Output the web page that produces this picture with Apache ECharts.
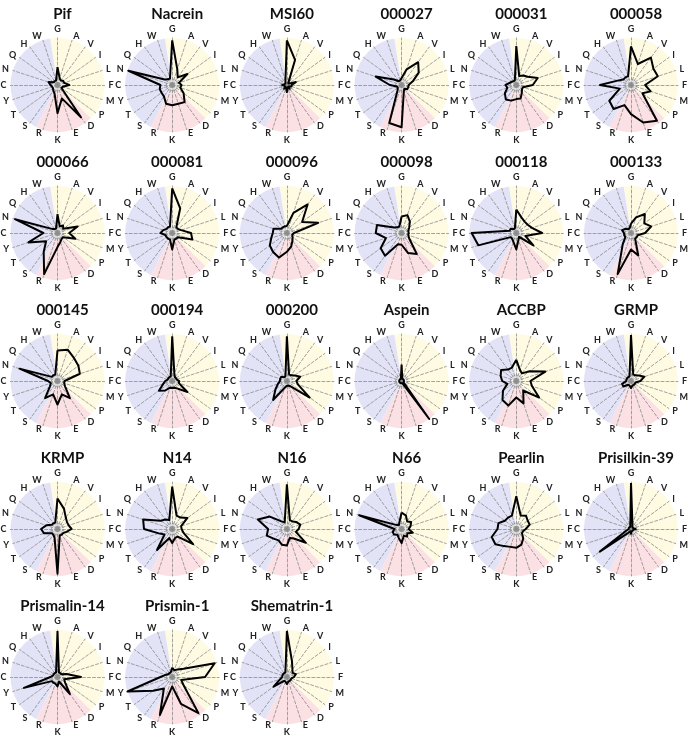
<!DOCTYPE html>
<html><head><meta charset="utf-8">
<script src="https://cdn.jsdelivr.net/npm/echarts@6/dist/echarts.min.js"></script>
<style>html,body{margin:0;padding:0;background:#fff}#c{width:689px;height:751px}</style>
</head><body><div id="c"></div>
<script>
// axes clockwise from top
const axes = ['G','A','V','I','L','F','M','P','D','E','K','R','S','T','Y','C','N','Q','H','W'];
// background sectors: number of axes in each group (clockwise from G)
const sectorCounts = [8, 4, 8];
const sectorColors = ['#fefbe2', '#fbe1e4', '#e3e3f7'];

const names = ['Pif','Nacrein','MSI60','000027','000031','000058',
  '000066','000081','000096','000098','000118','000133',
  '000145','000194','000200','Aspein','ACCBP','GRMP',
  'KRMP','N14','N16','N66','Pearlin','Prisilkin-39',
  'Prismalin-14','Prismin-1','Shematrin-1'];

// values in axis order G A V I L F M P D E K R S T Y C N Q H W (fraction of radius)
const pif        = [0.38,0.15,0.12,0.15,0.15,0.25,0.12,0.10,0.85,0.30,0.60,0.20,0.15,0.12,0.12,0.15,0.20,0.10,0.10,0.10];
const nacrein    = [0.95,0.35,0.20,0.40,0.15,0.20,0.18,0.30,0.45,0.42,0.43,0.42,0.30,0.28,0.28,0.25,0.98,0.20,0.15,0.15];
const msi60      = [0.95,0.56,0.05,0.05,0.20,0.10,0.10,0.05,0.10,0.05,0.15,0.05,0.10,0.05,0.05,0.10,0.05,0.05,0.05,0.10];
const p000027    = [0.15,0.35,0.60,0.45,0.25,0.15,0.15,0.15,0.10,0.15,0.90,0.85,0.15,0.10,0.10,0.25,0.58,0.20,0.10,0.10];
const p000031    = [0.83,0.20,0.25,0.30,0.48,0.35,0.15,0.15,0.20,0.30,0.30,0.35,0.38,0.30,0.20,0.23,0.15,0.12,0.10,0.10];
const p000058    = [0.82,0.47,0.72,0.59,0.60,0.30,0.44,0.30,0.94,0.84,0.62,0.45,0.63,0.57,0.25,0.66,0.30,0.20,0.20,0.20];
const p000066    = [0.40,0.15,0.20,0.15,0.45,0.25,0.40,0.15,0.15,0.20,0.30,0.92,0.50,0.30,0.65,0.30,0.95,0.15,0.10,0.10];
const p000081    = [0.95,0.55,0.15,0.15,0.20,0.40,0.45,0.15,0.15,0.15,0.35,0.15,0.15,0.15,0.15,0.25,0.20,0.15,0.15,0.15];
const p000096    = [0.15,0.45,0.75,0.40,0.70,0.15,0.12,0.15,0.20,0.30,0.40,0.55,0.50,0.45,0.35,0.30,0.30,0.15,0.15,0.15];
const p000098    = [0.35,0.40,0.30,0.20,0.15,0.15,0.15,0.20,0.55,0.45,0.25,0.25,0.60,0.55,0.35,0.55,0.55,0.20,0.15,0.15];
const p000118    = [0.50,0.35,0.30,0.30,0.35,0.55,0.20,0.45,0.10,0.15,0.35,0.20,0.15,0.15,0.85,0.95,0.15,0.15,0.10,0.10];
const p000133    = [0.20,0.35,0.50,0.35,0.45,0.30,0.15,0.15,0.15,0.50,0.35,0.92,0.30,0.15,0.15,0.15,0.20,0.15,0.10,0.10];
const p000145    = [0.65,0.70,0.60,0.55,0.50,0.15,0.15,0.20,0.45,0.30,0.50,0.30,0.45,0.20,0.15,0.20,0.85,0.15,0.15,0.15];
const p000194    = [0.95,0.15,0.10,0.10,0.10,0.15,0.15,0.40,0.20,0.15,0.15,0.15,0.25,0.35,0.20,0.15,0.10,0.10,0.10,0.10];
const p000200    = [0.95,0.15,0.15,0.20,0.30,0.20,0.25,0.60,0.15,0.10,0.10,0.15,0.50,0.30,0.20,0.15,0.15,0.15,0.10,0.10];
const aspein     = [0.35,0.05,0.05,0.05,0.05,0.05,0.05,0.05,1.00,0.05,0.05,0.05,0.05,0.05,0.05,0.05,0.05,0.05,0.05,0.05];
const accbp      = [0.45,0.25,0.20,0.35,0.65,0.30,0.35,0.60,0.25,0.50,0.35,0.55,0.50,0.35,0.20,0.30,0.35,0.40,0.30,0.30];
const grmp       = [0.98,0.15,0.15,0.20,0.30,0.20,0.10,0.10,0.10,0.10,0.15,0.10,0.10,0.20,0.20,0.10,0.10,0.10,0.10,0.10];
const krmp       = [0.65,0.45,0.30,0.25,0.25,0.30,0.20,0.15,0.15,0.15,0.95,0.20,0.15,0.15,0.30,0.35,0.25,0.15,0.15,0.15];
const n14        = [0.90,0.30,0.30,0.40,0.20,0.20,0.25,0.55,0.20,0.20,0.30,0.20,0.55,0.20,0.30,0.60,0.65,0.30,0.25,0.20];
const n16        = [0.95,0.20,0.20,0.25,0.30,0.25,0.20,0.50,0.25,0.20,0.35,0.35,0.30,0.35,0.45,0.40,0.65,0.45,0.20,0.15];
const n66        = [0.35,0.30,0.20,0.25,0.20,0.15,0.25,0.15,0.20,0.15,0.30,0.20,0.15,0.20,0.20,0.15,0.95,0.15,0.10,0.15];
const pearlin    = [0.70,0.30,0.35,0.30,0.30,0.20,0.15,0.15,0.25,0.35,0.40,0.40,0.45,0.55,0.55,0.40,0.40,0.30,0.30,0.30];
const prisilkin39= [0.98,0.10,0.05,0.05,0.05,0.10,0.05,0.05,0.05,0.05,0.10,0.05,0.10,0.82,0.10,0.05,0.05,0.05,0.05,0.05];
const prismalin14= [0.98,0.10,0.10,0.10,0.20,0.50,0.15,0.20,0.45,0.10,0.20,0.15,0.15,0.15,0.75,0.15,0.10,0.10,0.10,0.10];
const prismin1   = [0.20,0.15,0.20,0.30,0.95,0.70,0.20,0.30,0.95,0.60,0.20,0.85,0.30,0.50,1.00,0.25,0.15,0.10,0.10,0.10];
const shematrin1 = [0.98,0.35,0.20,0.15,0.20,0.15,0.10,0.10,0.10,0.10,0.15,0.10,0.10,0.35,0.15,0.10,0.10,0.10,0.10,0.10];

const allValues = [pif,nacrein,msi60,p000027,p000031,p000058,
  p000066,p000081,p000096,p000098,p000118,p000133,
  p000145,p000194,p000200,aspein,accbp,grmp,
  krmp,n14,n16,n66,pearlin,prisilkin39,
  prismalin14,prismin1,shematrin1];

// ECharts places indicators counterclockwise; reorder so axes run clockwise
const order = [0].concat(Array.from({length: axes.length - 1}, (_, i) => axes.length - 1 - i));

const R = 47;
const colX = i => 57.5 + i * 114.7;
const rowY = j => 85 + j * 148;
const SPLIT = 16;
const lineColors = Array.from({length: SPLIT + 1}, (_, i) => i === 2 ? '#9a9a9a' : 'rgba(0,0,0,0)');
const areaColors = Array.from({length: SPLIT}, (_, i) => i === 0 ? '#b4b4b4' : (i === 1 ? '#ececec' : 'rgba(0,0,0,0)'));

const titles = [], radars = [], series = [];
names.forEach((nm, k) => {
  const cx = colX(k % 6), cy = rowY(Math.floor(k / 6));
  titles.push({
    text: nm, left: cx, top: cy - 83, textAlign: 'center',
    textStyle: {fontFamily: 'Lato', fontWeight: 'bold', fontSize: 15, color: '#111'}
  });
  radars.push({
    center: [cx, cy], radius: R, startAngle: 90, shape: 'circle', splitNumber: SPLIT, z: 3,
    indicator: order.map(i => ({name: axes[i], min: 0, max: 1})),
    axisName: {color: '#222', fontSize: 9, fontFamily: 'Lato', fontWeight: 'bold'},
    nameGap: 4,
    axisLine: {lineStyle: {color: '#8c8c8c', width: 0.8, type: [3, 2]}},
    splitLine: {show: true, lineStyle: {color: lineColors, width: 1, type: [2, 1]}},
    splitArea: {show: true, areaStyle: {color: areaColors}},
    axisTick: {show: false}, axisLabel: {show: false}
  });
  series.push({
    type: 'pie', center: [cx, cy], radius: [0, R], startAngle: 99, clockwise: true,
    silent: true, z: 1, label: {show: false}, labelLine: {show: false},
    emphasis: {disabled: true},
    itemStyle: {borderWidth: 0},
    data: sectorCounts.map((v, i) => ({value: v, itemStyle: {color: sectorColors[i]}}))
  });
  series.push({
    type: 'radar', radarIndex: k, symbol: 'none', silent: true, z: 5,
    lineStyle: {color: '#000', width: 2},
    data: [{value: order.map(i => allValues[k][i])}]
  });
});

const chart = echarts.init(document.getElementById('c'), null, {renderer: 'canvas'});
chart.setOption({animation: false, title: titles, radar: radars, series: series});
</script>
</body></html>
